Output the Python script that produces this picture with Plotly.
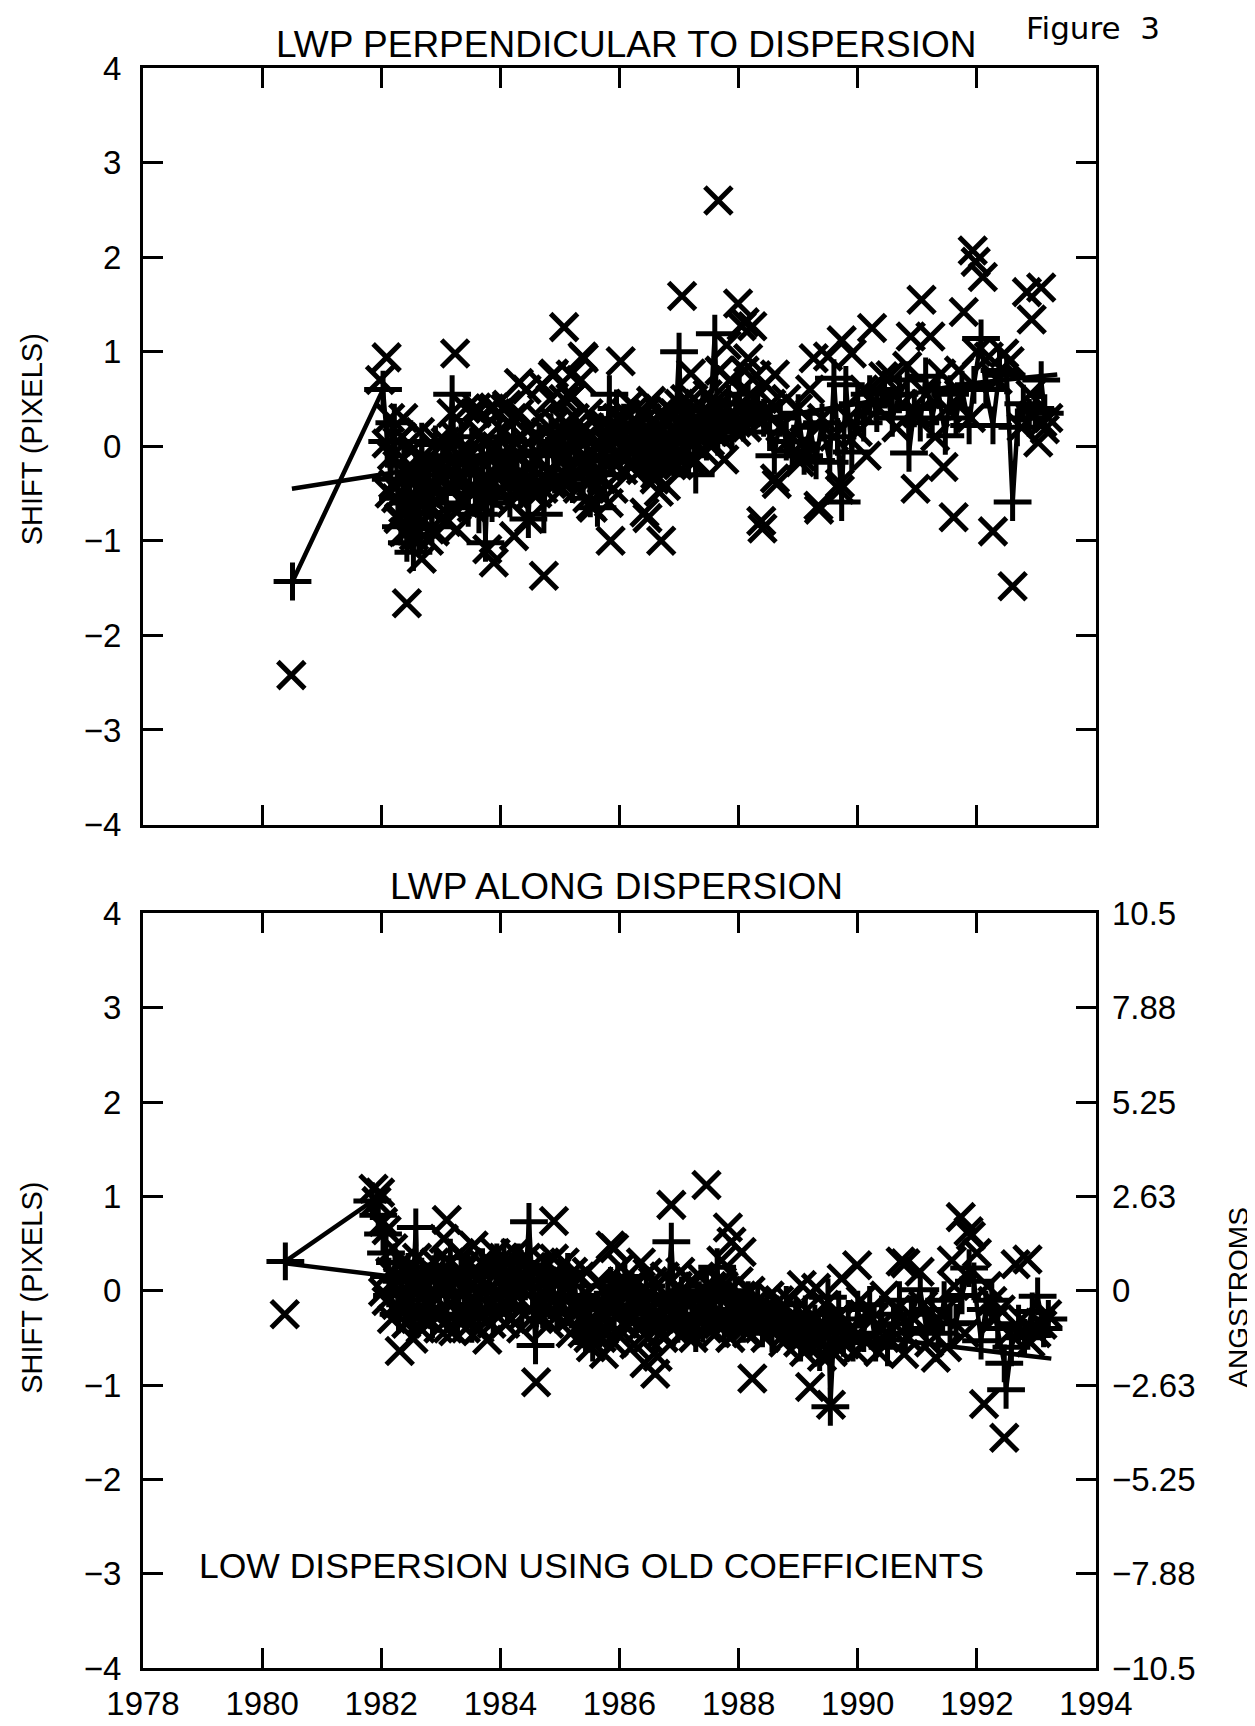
import plotly.graph_objects as go

# ---------------- DATA ----------------
# Top panel: LWP perpendicular to dispersion (shift in pixels)
top_plus_year = [1980.51, 1982.03, 1982.10, 1982.16, 1982.22, 1982.28, 1982.33, 1982.38, 1982.43, 1982.48,
                 1982.54, 1982.58, 1982.63, 1982.68, 1982.73, 1982.79, 1982.85, 1982.91, 1982.97, 1983.03,
                 1983.09, 1983.19, 1983.24, 1983.29, 1983.34, 1983.40, 1983.46, 1983.52, 1983.58, 1983.64,
                 1983.70, 1983.75, 1983.80, 1983.86, 1983.92, 1983.98, 1984.04, 1984.10, 1984.16, 1984.22,
                 1984.28, 1984.34, 1984.40, 1984.47, 1984.53, 1984.59, 1984.65, 1984.73, 1984.79, 1984.85,
                 1984.91, 1984.97, 1985.03, 1985.09, 1985.15, 1985.21, 1985.27, 1985.33, 1985.39, 1985.45,
                 1985.51, 1985.57, 1985.63, 1985.69, 1985.75, 1985.83, 1985.89, 1985.95, 1986.01, 1986.07,
                 1986.13, 1986.19, 1986.25, 1986.31, 1986.37, 1986.43, 1986.49, 1986.55, 1986.61, 1986.67,
                 1986.73, 1986.79, 1986.85, 1986.91, 1987.00, 1987.05, 1987.10, 1987.16, 1987.22, 1987.28,
                 1987.34, 1987.40, 1987.46, 1987.52, 1987.60, 1987.65, 1987.71, 1987.77, 1987.83, 1987.89,
                 1987.95, 1988.01, 1988.08, 1988.16, 1988.24, 1988.32, 1988.42, 1988.52, 1988.60, 1988.70,
                 1988.80, 1988.90, 1989.00, 1989.10, 1989.20, 1989.30, 1989.40, 1989.53, 1989.60, 1989.66,
                 1989.73, 1989.80, 1989.90, 1990.00, 1990.10, 1990.20, 1990.32, 1990.45, 1990.58, 1990.70,
                 1990.83, 1990.86, 1990.95, 1991.05, 1991.14, 1991.25, 1991.35, 1991.47, 1991.55, 1991.65,
                 1991.75, 1991.87, 1991.95, 1992.07, 1992.15, 1992.27, 1992.38, 1992.50, 1992.60, 1992.68,
                 1992.78, 1992.88, 1992.98, 1993.08, 1993.14]
top_plus_shift = [-1.43, 0.60, 0.05, -0.35, 0.25, -0.55, -0.85, -0.20, -1.02, -0.60,
                  -1.12, -0.30, -0.95, 0.05, -0.70, -0.25, -0.85, 0.02, -0.45, -0.10,
                  -0.60, 0.55, -0.15, -0.50, 0.10, -0.30, -0.65, 0.00, -0.40, -0.72,
                  -0.10, -1.02, -0.15, -0.60, -0.45, 0.10, -0.35, -0.05, -0.55, 0.05,
                  -0.25, -0.45, -0.10, -0.77, -0.05, -0.30, 0.05, -0.72, -0.10, 0.15,
                  -0.30, -0.05, 0.20, -0.25, 0.00, -0.40, 0.10, -0.15, -0.35, 0.05,
                  -0.55, -0.10, -0.65, 0.15, -0.30, 0.55, -0.10, 0.40, -0.05, 0.25,
                  -0.15, 0.10, -0.05, 0.20, 0.00, -0.20, 0.15, -0.10, 0.05, -0.25,
                  0.10, -0.05, 0.20, -0.15, 1.00, 0.05, 0.30, -0.10, 0.25, -0.30,
                  0.15, 0.40, 0.05, 0.30, 1.19, 0.10, 0.35, 0.20, 0.45, 0.15,
                  0.30, 0.55, 0.25, 0.45, 0.35, 0.40, 0.30, 0.15, -0.10, 0.30,
                  0.05, -0.05, 0.35, -0.10, 0.20, -0.15, 0.25, -0.17, 0.72, 0.10,
                  -0.59, 0.65, -0.06, 0.45, 0.25, 0.55, 0.35, 0.60, 0.30, 0.55,
                  0.70, -0.07, 0.40, 0.25, 0.74, 0.30, 0.60, 0.11, 0.55, 0.30,
                  0.60, 0.22, 0.65, 1.14, 0.60, 0.22, 0.80, 0.75, -0.59, 0.20,
                  0.45, 0.30, 0.40, 0.70, 0.35]

top_x_year = [1980.49, 1981.98, 1982.09, 1983.24, 1982.43, 1982.68, 1983.89, 1983.78, 1984.73, 1985.07,
              1985.40, 1985.38, 1986.02, 1985.35, 1985.21, 1985.85, 1986.70, 1986.42, 1986.47, 1987.05,
              1987.66, 1987.99, 1988.05, 1988.23, 1987.80, 1988.64, 1988.40, 1989.35, 1989.70, 1991.07,
              1990.24, 1990.89, 1991.22, 1990.97, 1991.44, 1991.61, 1991.78, 1991.93, 1991.98, 1992.10,
              1992.27, 1992.60, 1992.84, 1993.08, 1992.92, 1989.26, 1989.50, 1989.90, 1990.83, 1991.40,
              1992.46, 1993.14, 1993.03, 1990.43, 1989.03, 1987.76, 1986.66, 1988.10, 1988.16, 1988.61,
              1989.73, 1987.20, 1986.53, 1986.19, 1986.59, 1986.78, 1985.55, 1988.61, 1988.38, 1989.34,
              1989.05, 1989.70, 1984.31, 1984.90, 1985.18, 1984.84, 1985.18, 1983.60, 1983.89, 1984.11,
              1982.37, 1982.09, 1982.14, 1982.29, 1982.37, 1982.82, 1983.27, 1984.23, 1984.48, 1985.52,
              1982.15, 1982.20, 1982.25, 1982.30, 1982.35, 1982.40, 1982.45, 1982.50, 1982.55, 1982.60,
              1982.65, 1982.70, 1982.75, 1982.80, 1982.85, 1982.90, 1982.95, 1983.00, 1983.05, 1983.10,
              1983.18, 1983.22, 1983.30, 1983.35, 1983.42, 1983.48, 1983.55, 1983.60, 1983.67, 1983.72,
              1983.82, 1983.90, 1983.96, 1984.02, 1984.08, 1984.14, 1984.20, 1984.26, 1984.32, 1984.38,
              1984.44, 1984.50, 1984.56, 1984.62, 1984.70, 1984.76, 1984.82, 1984.88, 1984.94, 1985.00,
              1985.06, 1985.12, 1985.18, 1985.25, 1985.30, 1985.36, 1985.42, 1985.48, 1985.54, 1985.60,
              1985.66, 1985.72, 1985.78, 1985.84, 1985.90, 1985.96, 1986.04, 1986.10, 1986.16, 1986.22,
              1986.28, 1986.34, 1986.40, 1986.46, 1986.52, 1986.58, 1986.64, 1986.70, 1986.76, 1986.82,
              1986.88, 1986.94, 1987.00, 1987.06, 1987.12, 1987.18, 1987.24, 1987.30, 1987.36, 1987.42,
              1987.48, 1987.54, 1987.62, 1987.68, 1987.74, 1987.86, 1987.92, 1988.10, 1988.20, 1988.30,
              1988.45, 1988.55, 1988.70, 1988.80, 1988.90, 1989.00, 1989.10, 1989.20, 1989.40, 1989.60,
              1989.85, 1990.00, 1990.10, 1990.15, 1990.35, 1990.55, 1990.65, 1990.75, 1991.00, 1991.15,
              1991.30, 1991.50, 1991.70, 1991.90, 1992.00, 1992.20, 1992.35, 1992.55, 1992.75, 1992.90,
              1993.10, 1993.20]
top_x_shift = [-2.42, 0.70, 0.94, 0.98, -1.66, -1.19, -1.23, -1.09, -1.37, 1.26,
               0.93, 0.95, 0.90, 0.70, 0.53, -1.00, -1.00, -0.70, -0.76, 1.59,
               2.60, 1.51, 1.27, 1.27, 1.07, -0.40, -0.87, -0.67, -0.46, 1.55,
               1.25, 1.16, 1.16, -0.45, -0.22, -0.75, 1.42, 2.07, 1.95, 1.79,
               -0.90, -1.48, 1.63, 1.68, 1.34, 0.93, 0.95, 0.98, 0.85, 0.77,
               0.98, 0.18, 0.04, 0.74, -0.17, -0.14, -0.48, 1.31, 0.93, 0.76,
               1.12, 0.77, 0.48, -0.22, -0.35, -0.42, -0.65, -0.34, -0.79, -0.63,
               -0.11, -0.39, 0.67, 0.77, 0.76, 0.50, 0.51, 0.41, 0.41, 0.44,
               0.30, 0.03, -0.50, -0.77, -0.91, -0.88, -0.88, -0.95, -0.77, -0.63,
               0.30, -0.40, -0.55, -0.75, 0.10, -0.90, -0.30, -0.05, -0.95, -0.45,
               0.15, -0.80, -0.15, -1.00, -0.40, -0.90, 0.05, -0.55, -0.25, -0.80,
               0.35, -0.35, -0.10, -0.55, 0.40, -0.20, -0.45, 0.35, -0.60, 0.05,
               0.40, -0.30, 0.35, -0.15, 0.40, -0.40, 0.30, -0.10, 0.35, -0.30,
               0.60, -0.20, 0.10, -0.50, 0.65, 0.15, -0.25, 0.75, 0.05, -0.35,
               0.50, 0.10, -0.20, 0.30, -0.45, 0.15, -0.10, 0.35, -0.35, 0.00,
               -0.50, 0.25, -0.20, 0.10, -0.45, 0.30, -0.10, 0.35, 0.05, -0.20,
               0.40, 0.10, -0.10, 0.30, 0.00, 0.25, -0.15, 0.20, 0.05, 0.40,
               -0.20, 0.15, 0.45, 0.00, 0.30, -0.15, 0.50, 0.10, 0.35, -0.05,
               0.55, 0.20, 0.40, 0.80, 0.25, 0.70, 0.35, 0.80, 0.55, 0.75,
               0.65, 0.45, 0.20, 0.50, 0.10, 0.40, 0.05, 0.60, 0.30, 0.10,
               0.30, 0.15, 0.60, -0.10, 0.40, 0.75, 0.20, 0.45, 0.35, 0.55,
               0.10, 0.40, 0.80, 0.30, 1.00, 0.95, 0.70, 0.90, 0.20, 0.55,
               0.25, 0.30]

# further 'x' observations inside the dense band of the top panel
top_x_band_year = [1982.18, 1982.27, 1982.33, 1982.42, 1982.48, 1982.57, 1982.62, 1982.72, 1982.78, 1982.88,
                   1982.93, 1983.02, 1983.08, 1983.13, 1983.20, 1983.26, 1983.33, 1983.39, 1983.45, 1983.52,
                   1983.58, 1983.64, 1983.70, 1983.76, 1983.86, 1983.93, 1984.00, 1984.06, 1984.12, 1984.18,
                   1984.24, 1984.30, 1984.36, 1984.42, 1984.48, 1984.54, 1984.60, 1984.66, 1984.72, 1984.78,
                   1984.86, 1984.92, 1984.98, 1985.04, 1985.10, 1985.16, 1985.22, 1985.28, 1985.34, 1985.40,
                   1985.46, 1985.52, 1985.58, 1985.64, 1985.70, 1985.76, 1985.82, 1985.88, 1985.94, 1986.00,
                   1986.06, 1986.12, 1986.18, 1986.24, 1986.30, 1986.36, 1986.42, 1986.48, 1986.54, 1986.60,
                   1986.68, 1986.74, 1986.80, 1986.86, 1986.92, 1986.98, 1987.04, 1987.10, 1987.16, 1987.22,
                   1987.28, 1987.34, 1987.40, 1987.46, 1987.52, 1987.58, 1987.70, 1987.80, 1987.96, 1988.04,
                   1988.14, 1988.26, 1988.36, 1988.50]
top_x_band_shift = [-0.10, 0.05, -0.50, -0.65, -0.20, -0.30, -0.60, -0.45, -0.65, -0.20,
                    -0.60, -0.35, 0.05, -0.45, -0.65, 0.10, -0.35, -0.60, -0.05, -0.65,
                    -0.20, 0.15, -0.40, -0.10, -0.55, 0.00, -0.45, 0.15, -0.25, -0.60,
                    0.05, -0.45, 0.10, -0.40, 0.20, -0.50, -0.15, 0.30, -0.45, 0.00,
                    -0.40, 0.25, -0.15, -0.45, 0.25, -0.35, -0.05, 0.10, -0.30, 0.20,
                    -0.55, 0.10, -0.30, 0.20, -0.35, 0.05, -0.60, 0.20, -0.20, 0.10,
                    -0.25, 0.20, 0.45, -0.05, 0.25, -0.25, 0.35, -0.15, 0.15, -0.30,
                    0.35, -0.10, 0.25, -0.05, 0.35, -0.20, 0.20, 0.50, 0.05, 0.35,
                    -0.15, 0.45, 0.15, 0.30, 0.05, 0.45, 0.10, 0.40, 0.15, 0.45,
                    0.20, 0.50, 0.25, 0.35]

top_fit_year = [1980.50, 1982.30, 1984.00, 1986.00, 1988.00, 1990.00, 1991.80, 1993.35]
top_fit_shift = [-0.45, -0.27, -0.12, 0.06, 0.25, 0.45, 0.66, 0.76]

# Bottom panel: LWP along dispersion (shift in pixels; right axis in angstroms)
bot_plus_year = [1980.39, 1981.85, 1981.95, 1982.03, 1982.08, 1982.13, 1982.18, 1982.23, 1982.29, 1982.34,
                 1982.40, 1982.45, 1982.51, 1982.58, 1982.62, 1982.68, 1982.74, 1982.80, 1982.86, 1982.92,
                 1982.98, 1983.04, 1983.10, 1983.16, 1983.22, 1983.28, 1983.34, 1983.40, 1983.46, 1983.52,
                 1983.58, 1983.64, 1983.70, 1983.76, 1983.82, 1983.88, 1983.94, 1984.00, 1984.06, 1984.12,
                 1984.18, 1984.24, 1984.30, 1984.36, 1984.42, 1984.48, 1984.54, 1984.59, 1984.65, 1984.71,
                 1984.77, 1984.83, 1984.89, 1984.95, 1985.01, 1985.07, 1985.13, 1985.19, 1985.25, 1985.31,
                 1985.37, 1985.43, 1985.49, 1985.55, 1985.61, 1985.67, 1985.73, 1985.79, 1985.85, 1985.91,
                 1985.97, 1986.03, 1986.09, 1986.15, 1986.21, 1986.27, 1986.33, 1986.39, 1986.45, 1986.51,
                 1986.57, 1986.63, 1986.69, 1986.75, 1986.81, 1986.87, 1986.92, 1986.98, 1987.04, 1987.10,
                 1987.16, 1987.22, 1987.28, 1987.34, 1987.40, 1987.46, 1987.52, 1987.58, 1987.64, 1987.70,
                 1987.76, 1987.82, 1987.88, 1987.94, 1988.00, 1988.08, 1988.16, 1988.24, 1988.32, 1988.40,
                 1988.48, 1988.56, 1988.64, 1988.72, 1988.80, 1988.88, 1988.96, 1989.04, 1989.12, 1989.20,
                 1989.28, 1989.36, 1989.44, 1989.50, 1989.54, 1989.60, 1989.68, 1989.76, 1989.84, 1989.92,
                 1990.00, 1990.10, 1990.20, 1990.30, 1990.40, 1990.50, 1990.60, 1990.70, 1990.80, 1990.90,
                 1991.05, 1991.15, 1991.25, 1991.35, 1991.45, 1991.55, 1991.65, 1991.75, 1991.87, 1991.95,
                 1992.07, 1992.15, 1992.25, 1992.35, 1992.46, 1992.49, 1992.58, 1992.70, 1992.80, 1992.93,
                 1993.02, 1993.12, 1993.20]
bot_plus_shift = [0.31, 0.95, 0.80, 0.60, 0.40, 0.15, -0.05, 0.30, -0.25, 0.10,
                  -0.15, 0.20, -0.30, 0.67, -0.10, 0.15, -0.20, 0.10, -0.30, 0.25,
                  -0.05, 0.20, -0.25, 0.35, 0.00, -0.30, 0.15, -0.15, 0.20, -0.35,
                  0.05, -0.20, 0.25, -0.10, 0.15, -0.25, 0.30, 0.00, 0.35, -0.15,
                  0.20, -0.05, 0.30, -0.20, 0.10, 0.73, 0.05, -0.58, 0.10, -0.20,
                  0.20, -0.10, 0.05, -0.25, 0.15, -0.05, 0.20, -0.20, 0.05, -0.35,
                  -0.05, -0.45, -0.15, -0.55, -0.20, -0.40, -0.10, -0.30, 0.05, -0.25,
                  0.10, -0.15, 0.15, -0.20, 0.00, -0.30, -0.05, -0.25, 0.05, -0.35,
                  -0.10, -0.40, -0.15, -0.30, -0.05, 0.52, -0.10, -0.35, -0.05, -0.30,
                  0.00, -0.25, -0.45, -0.10, -0.35, 0.05, -0.25, -0.05, 0.25, -0.20,
                  -0.40, -0.10, -0.30, 0.00, -0.20, -0.35, -0.10, -0.30, -0.15, -0.40,
                  -0.20, -0.45, -0.25, -0.35, -0.15, -0.45, -0.30, -0.55, -0.25, -0.50,
                  -0.35, -0.65, -0.40, -0.07, -1.23, -0.45, -0.20, -0.50, -0.30, -0.55,
                  -0.20, -0.45, -0.15, -0.55, -0.25, -0.60, -0.35, -0.10, -0.45, -0.25,
                  0.01, -0.40, -0.20, -0.45, -0.10, -0.35, -0.34, -0.05, 0.24, 0.10,
                  -0.53, -0.20, -0.10, -0.40, -0.77, -1.05, -0.60, -0.35, -0.50, -0.22,
                  -0.06, -0.40, -0.30]

bot_x_year = [1980.38, 1981.87, 1981.98, 1981.92, 1982.03, 1982.09, 1982.20, 1982.03, 1982.09, 1982.31,
              1982.54, 1982.76, 1983.10, 1983.05, 1983.21, 1983.55, 1983.78, 1984.90, 1984.90, 1984.60,
              1985.85, 1985.74, 1985.91, 1986.47, 1986.25, 1986.42, 1986.64, 1986.60, 1986.87, 1987.46,
              1987.82, 1987.88, 1988.05, 1987.71, 1988.23, 1989.20, 1989.55, 1989.06, 1989.30, 1989.73,
              1989.99, 1989.79, 1989.96, 1990.72, 1990.80, 1991.04, 1991.58, 1991.73, 1991.86, 1991.90,
              1992.12, 1992.46, 1992.65, 1992.85, 1990.78, 1991.31, 1992.26, 1993.05, 1993.00, 1993.10,
              1982.15, 1982.25, 1982.35, 1982.42, 1982.50, 1982.60, 1982.66, 1982.72, 1982.84, 1982.90,
              1982.96, 1983.02, 1983.15, 1983.28, 1983.35, 1983.42, 1983.48, 1983.62, 1983.68, 1983.85,
              1983.92, 1984.00, 1984.05, 1984.10, 1984.18, 1984.25, 1984.32, 1984.40, 1984.52, 1984.68,
              1984.75, 1984.82, 1985.00, 1985.08, 1985.15, 1985.22, 1985.30, 1985.38, 1985.45, 1985.52,
              1985.58, 1985.65, 1985.70, 1985.80, 1985.95, 1986.02, 1986.10, 1986.18, 1986.30, 1986.36,
              1986.50, 1986.56, 1986.70, 1986.76, 1986.95, 1987.02, 1987.08, 1987.20, 1987.26, 1987.35,
              1987.44, 1987.55, 1987.62, 1987.75, 1987.92, 1988.00, 1988.10, 1988.20, 1988.30, 1988.45,
              1988.52, 1988.62, 1988.75, 1988.85, 1988.95, 1989.10, 1989.15, 1989.25, 1989.40, 1989.45,
              1989.65, 1989.70, 1989.88, 1990.05, 1990.15, 1990.25, 1990.35, 1990.45, 1990.55, 1990.65,
              1990.85, 1990.95, 1991.10, 1991.20, 1991.40, 1991.50, 1991.62, 1991.80, 1992.00, 1992.18,
              1992.30, 1992.40, 1992.55, 1992.75, 1992.90, 1993.18]
bot_x_shift = [-0.25, 1.08, 1.04, 0.95, 0.73, 0.64, 0.45, -0.01, -0.11, -0.64,
               -0.51, -0.29, 0.75, 0.55, -0.43, 0.48, -0.52, 0.74, 0.34, -0.97,
               0.48, -0.67, 0.45, 0.19, -0.57, -0.77, -0.70, -0.88, 0.91, 1.12,
               0.67, 0.52, 0.41, 0.32, -0.93, -1.02, -1.21, 0.06, 0.03, 0.13,
               0.27, -0.57, -0.64, 0.31, 0.29, 0.20, 0.32, 0.78, 0.63, 0.58,
               -1.20, -1.56, 0.28, 0.33, -0.67, -0.71, -0.11, -0.34, -0.45, -0.36,
               0.20, -0.15, 0.30, -0.35, 0.05, 0.35, -0.40, 0.10, -0.15, 0.30,
               -0.40, 0.10, 0.30, -0.20, 0.20, -0.40, 0.05, -0.25, 0.30, -0.35,
               0.40, -0.20, 0.35, 0.10, -0.30, 0.40, 0.05, -0.25, 0.25, -0.10,
               0.30, -0.35, 0.10, 0.30, -0.30, 0.20, -0.10, -0.45, 0.20, -0.60,
               -0.30, 0.10, -0.50, -0.05, -0.45, 0.25, -0.35, 0.05, -0.15, 0.30,
               -0.30, 0.10, -0.45, 0.15, -0.20, 0.20, -0.45, 0.10, -0.35, 0.15,
               -0.20, 0.05, -0.45, 0.05, -0.20, 0.10, -0.40, 0.00, -0.25, -0.50,
               -0.05, -0.35, -0.55, -0.10, -0.40, -0.65, -0.20, -0.45, -0.70, -0.15,
               -0.60, -0.25, -0.40, -0.10, -0.55, -0.30, -0.65, -0.05, -0.40, -0.20,
               -0.50, -0.30, -0.15, -0.55, -0.25, -0.60, 0.05, -0.45, 0.40, 0.05,
               -0.30, -0.20, -0.45, -0.30, -0.55, -0.25]

# further 'x' observations inside the dense band of the bottom panel
bot_x_band_year = [1982.18, 1982.28, 1982.38, 1982.46, 1982.55, 1982.64, 1982.70, 1982.78, 1982.88, 1982.94,
                   1983.00, 1983.08, 1983.12, 1983.20, 1983.25, 1983.32, 1983.38, 1983.45, 1983.52, 1983.58,
                   1983.65, 1983.72, 1983.80, 1983.88, 1983.96, 1984.02, 1984.08, 1984.14, 1984.21, 1984.28,
                   1984.35, 1984.44, 1984.50, 1984.58, 1984.64, 1984.72, 1984.80, 1984.86, 1984.94, 1985.04,
                   1985.11, 1985.18, 1985.26, 1985.34, 1985.41, 1985.48, 1985.55, 1985.62, 1985.68, 1985.76,
                   1985.84, 1985.90, 1985.98, 1986.06, 1986.14, 1986.22, 1986.28, 1986.34, 1986.42, 1986.48,
                   1986.54, 1986.62, 1986.68, 1986.74, 1986.80, 1986.90, 1986.98, 1987.05, 1987.12, 1987.18,
                   1987.24, 1987.30, 1987.38, 1987.48, 1987.58, 1987.66, 1987.72, 1987.80, 1987.86, 1987.96,
                   1988.05, 1988.14, 1988.25, 1988.35, 1988.42, 1988.58, 1988.68, 1988.78, 1988.90, 1989.00,
                   1989.08, 1989.18, 1989.30, 1989.35, 1989.50, 1989.58, 1989.62]
bot_x_band_shift = [-0.30, 0.10, -0.05, 0.20, -0.25, 0.00, -0.30, 0.25, -0.05, 0.15,
                    -0.25, 0.00, -0.40, 0.15, -0.10, 0.40, -0.30, 0.30, -0.15, 0.20,
                    -0.40, 0.05, -0.15, 0.25, -0.05, 0.15, -0.35, 0.30, -0.10, 0.20,
                    -0.40, 0.35, -0.20, 0.20, -0.30, 0.10, 0.00, -0.20, 0.20, -0.15,
                    0.05, -0.45, -0.20, 0.15, -0.25, -0.50, -0.10, -0.45, -0.20, -0.40,
                    -0.20, -0.55, 0.00, -0.35, -0.05, -0.30, 0.10, -0.40, -0.10, -0.50,
                    -0.20, 0.05, -0.30, -0.50, -0.15, -0.40, 0.05, -0.20, -0.40, -0.10,
                    -0.50, -0.20, 0.00, -0.40, -0.15, -0.35, 0.10, -0.30, -0.50, -0.25,
                    -0.05, -0.45, -0.15, -0.40, -0.20, -0.30, -0.10, -0.45, -0.25, -0.55,
                    -0.35, -0.60, -0.30, -0.55, -0.40, -0.65, -0.30]

bot_fit_year = [1980.39, 1982.30, 1984.00, 1986.00, 1988.00, 1989.70, 1991.40, 1993.25]
bot_fit_shift = [0.29, 0.14, 0.01, -0.15, -0.32, -0.45, -0.57, -0.72]

x_tick_years = [1978, 1980, 1982, 1984, 1986, 1988, 1990, 1992, 1994]
y_ticks = [-4, -3, -2, -1, 0, 1, 2, 3, 4]
ang_ticks = [-10.5, -7.88, -5.25, -2.63, 0, 2.63, 5.25, 7.88, 10.5]
ang_labels = ["\u221210.5", "\u22127.88", "\u22125.25", "\u22122.63", "0", "2.63", "5.25", "7.88", "10.5"]

# ---------------- FIGURE ----------------
FONT = "Liberation Sans, Arial, Helvetica, sans-serif"
W, H = 1255, 1726
ML, MR, MT, MB = 135, 167, 60, 46
TICK_SIZE = 33

plus_marker = dict(symbol="cross-thin", size=27, color="black", line=dict(color="black", width=5))
x_marker = dict(symbol="x-thin", size=27, color="black", line=dict(color="black", width=5))
conn_line = dict(color="black", width=4.5)

fig = go.Figure()
# top panel
fig.add_trace(go.Scatter(x=top_fit_year, y=top_fit_shift, mode="lines", line=conn_line,
                         xaxis="x", yaxis="y", showlegend=False))
fig.add_trace(go.Scatter(x=top_plus_year, y=top_plus_shift, mode="lines+markers",
                         line=conn_line, marker=plus_marker,
                         xaxis="x", yaxis="y", showlegend=False))
fig.add_trace(go.Scatter(x=top_x_year + top_x_band_year, y=top_x_shift + top_x_band_shift,
                         mode="markers", marker=x_marker,
                         xaxis="x", yaxis="y", showlegend=False))
# bottom panel
fig.add_trace(go.Scatter(x=bot_fit_year, y=bot_fit_shift, mode="lines", line=conn_line,
                         xaxis="x2", yaxis="y2", showlegend=False))
fig.add_trace(go.Scatter(x=bot_plus_year, y=bot_plus_shift, mode="lines+markers",
                         line=conn_line, marker=plus_marker,
                         xaxis="x2", yaxis="y2", showlegend=False))
fig.add_trace(go.Scatter(x=bot_x_year + bot_x_band_year, y=bot_x_shift + bot_x_band_shift,
                         mode="markers", marker=x_marker,
                         xaxis="x2", yaxis="y2", showlegend=False))
# invisible carrier so the angstrom axis is drawn
fig.add_trace(go.Scatter(x=[x_tick_years[0], x_tick_years[0]], y=[ang_ticks[0], ang_ticks[-1]],
                         mode="markers", marker=dict(opacity=0, size=1), hoverinfo="skip",
                         xaxis="x2", yaxis="y3", showlegend=False))

plot_h = H - MT - MB
plot_w = W - ML - MR
top_dom = [1 - (826 - MT) / plot_h, 1]
bot_dom = [0, (H - MB - 916) / plot_h]

axis_common = dict(showline=True, linecolor="black", linewidth=3, ticks="inside", ticklen=20,
                   tickwidth=3, tickcolor="black", showgrid=False, zeroline=False,
                   tickfont=dict(family=FONT, size=TICK_SIZE, color="black"))

def px_x(px):
    return (px - ML) / plot_w

def px_y(py):
    return (H - MB - py) / plot_h

fig.update_layout(
    width=W, height=H, autosize=False,
    margin=dict(l=ML, r=MR, t=MT, b=MB),
    paper_bgcolor="white", plot_bgcolor="white",
    showlegend=False,
    xaxis=dict(domain=[0, 1], anchor="y", range=[1978, 1994], tickvals=x_tick_years[1:-1],
               showticklabels=False, mirror="ticks", **axis_common),
    yaxis=dict(domain=top_dom, anchor="x", range=[-4, 4], tickvals=y_ticks, mirror="ticks",
               ticklabelstandoff=12, **axis_common),
    xaxis2=dict(domain=[0, 1], anchor="y2", range=[1978, 1994], tickvals=x_tick_years,
                mirror="ticks", ticklabelstandoff=4, **axis_common),
    yaxis2=dict(domain=bot_dom, anchor="x2", range=[-4, 4], tickvals=y_ticks, mirror="ticks",
                ticklabelstandoff=12, **axis_common),
    yaxis3=dict(overlaying="y2", side="right", anchor="x2", range=[-10.5, 10.5],
                tickvals=ang_ticks, ticktext=ang_labels, showline=False, ticks="",
                showgrid=False, zeroline=False, ticklabelstandoff=15,
                tickfont=dict(family=FONT, size=TICK_SIZE, color="black")),
)

annos = [
    dict(text="LWP PERPENDICULAR TO DISPERSION", x=px_x(618), y=px_y(36), size=37, angle=0),
    dict(text="LWP ALONG DISPERSION", x=px_x(608), y=px_y(889), size=37, angle=0),
    dict(text="LOW DISPERSION USING OLD COEFFICIENTS", x=px_x(583), y=px_y(1577), size=35.5, angle=0),
    dict(text="SHIFT (PIXELS)", x=px_x(24), y=px_y(436), size=29, angle=-90),
    dict(text="SHIFT (PIXELS)", x=px_x(24), y=px_y(1295), size=29, angle=-90),
    dict(text="ANGSTROMS", x=px_x(1231), y=px_y(1305), size=28, angle=-90),
]
for a in annos:
    fig.add_annotation(text=a["text"], x=a["x"], y=a["y"], xref="paper", yref="paper",
                       xanchor="center", yanchor="middle", showarrow=False, textangle=a["angle"],
                       font=dict(family=FONT, size=a["size"], color="black"))
fig.add_annotation(text="Figure  3", x=px_x(1085), y=px_y(20), xref="paper", yref="paper",
                   xanchor="center", yanchor="middle", showarrow=False,
                   font=dict(family="DejaVu Sans, sans-serif", size=31, color="black"))

fig.write_html("out.html")
